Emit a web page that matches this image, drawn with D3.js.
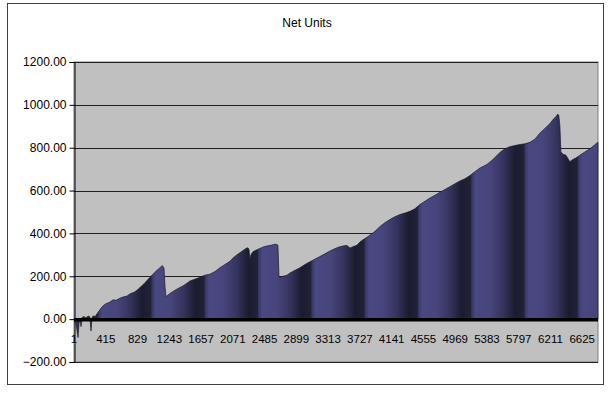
<!DOCTYPE html>
<html><head><meta charset="utf-8">
<script src="https://cdn.jsdelivr.net/npm/d3@7"></script>
<style>body{margin:0;background:#fff;}svg{display:block;font-family:"Liberation Sans",Arial,sans-serif;}</style>
</head><body><svg id="c" width="612" height="394"></svg>
<script>
const title = "Net Units";
const totalTrades = 6830;
const xTickLabels = [1,415,829,1243,1657,2071,2485,2899,3313,3727,4141,4555,4969,5383,5797,6211,6625];
const yTickValues = [-200,0,200,400,600,800,1000,1200];
const trade = [1,27,53,66,79,92,105,131,157,183,209,222,235,248,275,301,340,379,418,470,509,548,600,639,692,731,783,822,861,913,952,991,1030,1082,1122,1148,1161,1174,1187,1200,1252,1317,1382,1421,1473,1512,1565,1604,1656,1708,1773,1838,1903,1969,2034,2073,2125,2164,2203,2242,2268,2281,2294,2307,2333,2373,2425,2477,2529,2581,2620,2646,2659,2672,2686,2725,2777,2815,2881,2946,3011,3076,3115,3167,3206,3272,3337,3376,3428,3467,3519,3558,3597,3636,3688,3728,3767,3819,3858,3897,3949,3988,4053,4118,4184,4249,4314,4379,4444,4509,4575,4640,4705,4770,4835,4900,4966,5031,5096,5161,5226,5291,5383,5461,5552,5617,5682,5747,5812,5877,5943,6008,6073,6138,6203,6242,6281,6307,6320,6334,6347,6373,6412,6464,6503,6542,6594,6659,6725,6777,6816,6830];
const netUnits = [0,-20,-85,-20,5,-35,8,12,5,15,10,-55,5,15,12,25,45,62,72,80,90,88,98,103,108,118,125,135,148,165,180,195,210,228,240,250,246,238,150,105,120,135,148,155,168,178,185,190,198,205,210,222,240,255,270,285,300,310,320,330,333,325,280,300,315,322,330,338,342,346,350,348,345,200,195,200,205,215,228,240,255,268,275,285,292,305,318,325,333,338,342,344,332,338,345,360,370,382,392,402,418,432,450,465,478,488,495,503,515,535,550,565,578,592,605,618,632,645,655,670,688,705,722,745,778,795,805,810,815,818,825,840,868,890,912,930,945,957,950,900,780,770,765,735,745,752,765,780,795,810,822,825];

const svg = d3.select("#c");
const L = 74, R = 598, T = 62, B = 362;
const x = d3.scaleLinear().domain([0.5, totalTrades + 0.5]).range([L, R]);
const y = d3.scaleLinear().domain([-200, 1200]).range([B, T]);

// outer border
svg.append("rect").attr("x",7.5).attr("y",3.5).attr("width",596).attr("height",381)
  .attr("fill","#fff").attr("stroke","#404040");

// title
svg.append("text").attr("x",307).attr("y",27).attr("text-anchor","middle")
  .attr("font-size",12).text(title);

// plot bg
svg.append("rect").attr("x",L).attr("y",T).attr("width",R-L).attr("height",B-T)
  .attr("fill","#c0c0c0").attr("stroke","#808080");

// gridlines
svg.append("g").selectAll("line").data(yTickValues).join("line")
  .attr("x1",L).attr("x2",R).attr("y1",d=>Math.round(y(d))+0.5).attr("y2",d=>Math.round(y(d))+0.5)
  .attr("stroke","#202020").attr("stroke-width",1);

// gradient pattern (vertical bands)
const defs = svg.append("defs");
const period = 53.3;
const pat = defs.append("pattern").attr("id","bands").attr("patternUnits","userSpaceOnUse")
  .attr("x", 204.7).attr("y",0).attr("width",period).attr("height",400);
const lg = defs.append("linearGradient").attr("id","bandGrad").attr("x1","0").attr("x2","1").attr("y1","0").attr("y2","0");
[[0,"#34345c"],[0.08,"#4a4882"],[0.35,"#47457c"],[0.6,"#35345e"],[0.82,"#1c1c30"],[1,"#222238"]]
  .forEach(([o,c])=>lg.append("stop").attr("offset",o).attr("stop-color",c));
pat.append("rect").attr("width",period).attr("height",400).attr("fill","url(#bandGrad)");

// area
const data = trade.map((t,i)=>({t, v: netUnits[i]}));
const area = d3.area().x(d=>x(d.t)).y0(y(0)).y1(d=>y(d.v));
svg.append("path").datum(data).attr("d",area)
  .attr("fill","url(#bands)").attr("stroke","#1a1a2a").attr("stroke-width",0.7);

// x axis line at zero
svg.append("line").attr("x1",L).attr("x2",R).attr("y1",y(0)+0.5).attr("y2",y(0)+0.5)
  .attr("stroke","#000").attr("stroke-width",3.5);

// y axis
const yAxis = d3.axisLeft(y).tickValues(yTickValues).tickSize(5).tickPadding(3)
  .tickFormat(d=>d3.format(".2f")(d));
const gy = svg.append("g").attr("transform",`translate(${L+0.5},0)`).call(yAxis);
gy.select(".domain").attr("stroke","#000");
gy.selectAll(".tick line").attr("stroke","#000");
gy.selectAll("text").attr("font-size",12).attr("font-family","Liberation Sans, Arial, sans-serif").attr("fill","#000");

// x labels
svg.append("g").selectAll("text").data(xTickLabels).join("text")
  .attr("x",d=>x(d)).attr("y",343).attr("text-anchor","middle").attr("font-size",11.5)
  .attr("fill","#000").text(d=>d);
</script></body></html>
